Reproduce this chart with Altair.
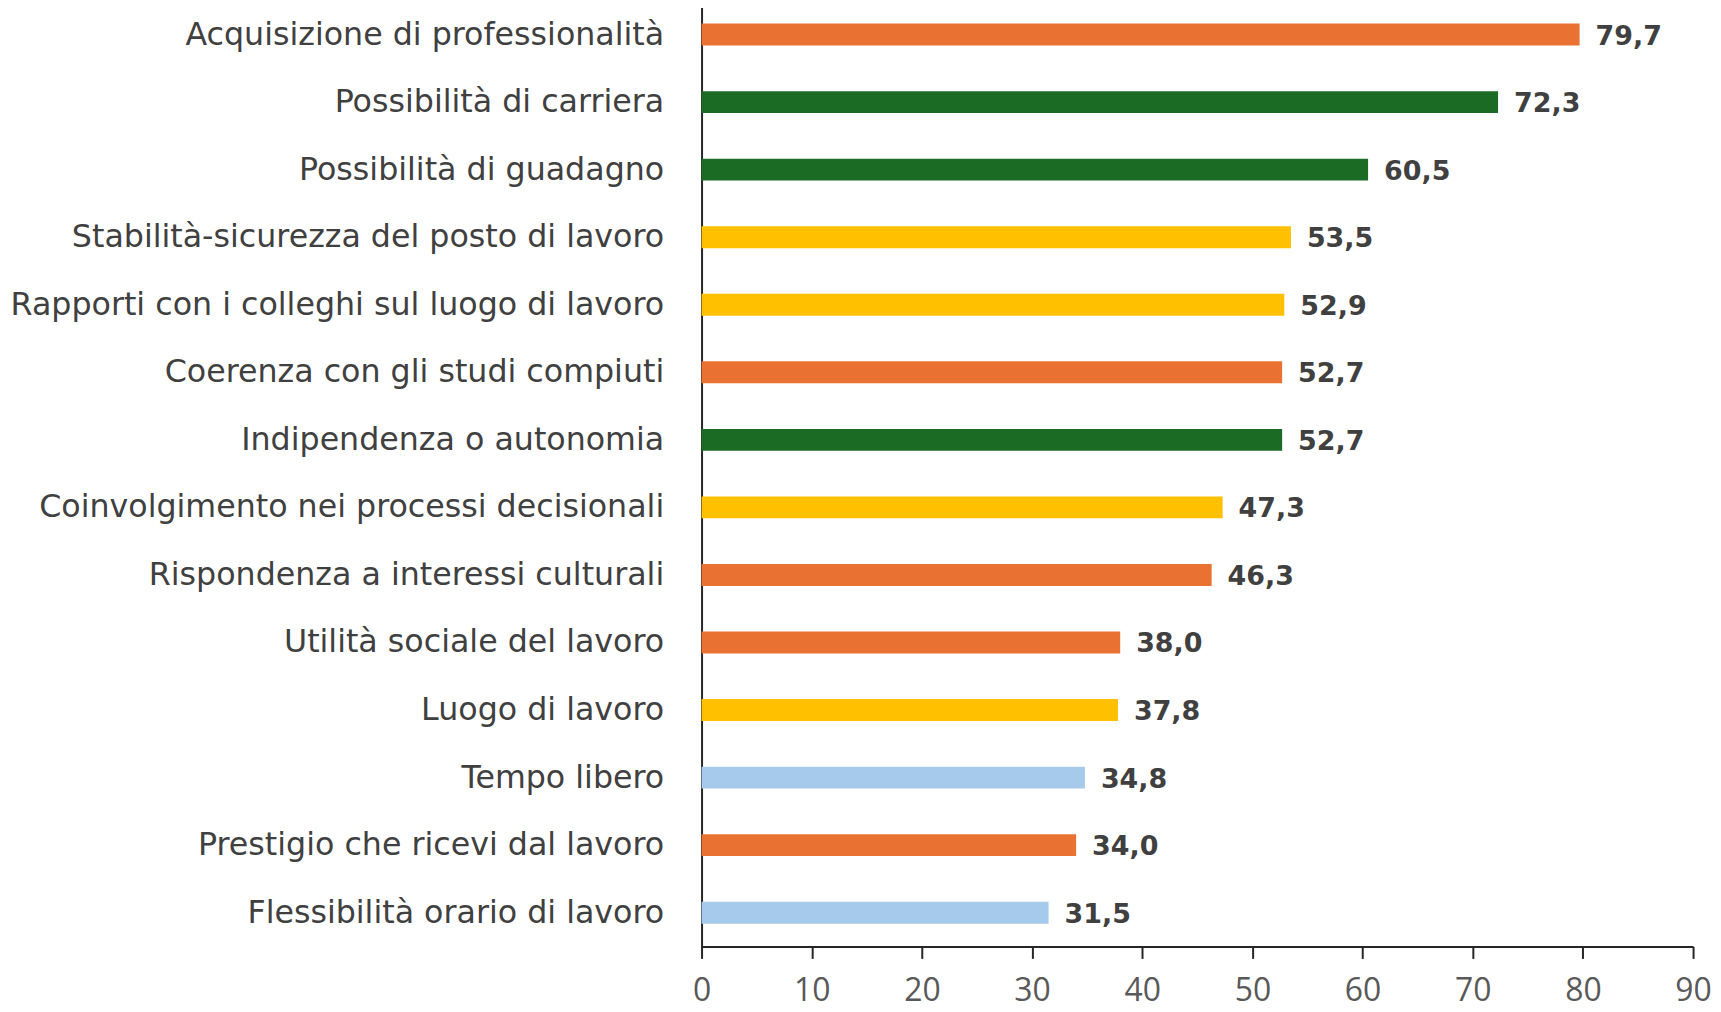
import altair as alt
import pandas as pd

categories = [
    "Acquisizione di professionalità",
    "Possibilità di carriera",
    "Possibilità di guadagno",
    "Stabilità-sicurezza del posto di lavoro",
    "Rapporti con i colleghi sul luogo di lavoro",
    "Coerenza con gli studi compiuti",
    "Indipendenza o autonomia",
    "Coinvolgimento nei processi decisionali",
    "Rispondenza a interessi culturali",
    "Utilità sociale del lavoro",
    "Luogo di lavoro ",
    "Tempo libero",
    "Prestigio che ricevi dal lavoro",
    "Flessibilità orario di lavoro",
]
values = [79.7, 72.3, 60.5, 53.5, 52.9, 52.7, 52.7, 47.3, 46.3, 38.0, 37.8, 34.8, 34.0, 31.5]
groups = ["arancio", "verde", "verde", "giallo", "giallo", "arancio", "verde",
          "giallo", "arancio", "arancio", "giallo", "azzurro", "arancio", "azzurro"]
group_names = ["arancio", "verde", "giallo", "azzurro"]
group_colors = ["#E97132", "#1B6B24", "#FFC000", "#A6CAEC"]
x_ticks = [0, 10, 20, 30, 40, 50, 60, 70, 80, 90]

df = pd.DataFrame({
    "cat": categories,
    "val": values,
    "grp": groups,
    "lab": [f"{v:.1f}".replace(".", ",") for v in values],
})

LABEL_FONT = "DejaVu Sans"
TICK_FONT = "Open Sans"

y_enc = alt.Y(
    "cat:N", sort=categories, title=None,
    scale=alt.Scale(range=[-9, 940], paddingInner=0.676, paddingOuter=0.338),
    axis=alt.Axis(
        ticks=False, domainColor="#262626", domainWidth=2,
        labelFont=LABEL_FONT, labelFontSize=31.8, labelColor="#404040",
        labelPadding=38, labelLimit=1000,
    ),
)

bars = alt.Chart(df).mark_bar().encode(
    x=alt.X("val:Q", title=None,
            scale=alt.Scale(domain=[0, 90], nice=False, zero=True),
            axis=alt.Axis(values=x_ticks, grid=False, domainColor="#262626", domainWidth=2,
                          tickColor="#262626", tickWidth=2, tickSize=12,
                          labelFont=TICK_FONT, labelFontSize=32, labelColor="#595959",
                          labelPadding=17, labelFlush=False)),
    y=y_enc,
    color=alt.Color("grp:N", scale=alt.Scale(domain=group_names, range=group_colors), legend=None),
)

texts = alt.Chart(df).mark_text(
    align="left", baseline="middle", dx=16, dy=2, font=LABEL_FONT, fontSize=27,
    fontWeight="bold", color="#404040",
).encode(
    x=alt.X("val:Q"),
    y=alt.Y("cat:N", sort=categories),
    text="lab:N",
)

chart = (bars + texts).properties(
    width=995, height=940,
    autosize=alt.AutoSizeParams(type="none"),
    padding={"left": 696, "top": 0, "right": 20, "bottom": 60},
).configure_view(stroke=None)

chart.save("out.html", embed_options={"renderer": "svg", "actions": False})
